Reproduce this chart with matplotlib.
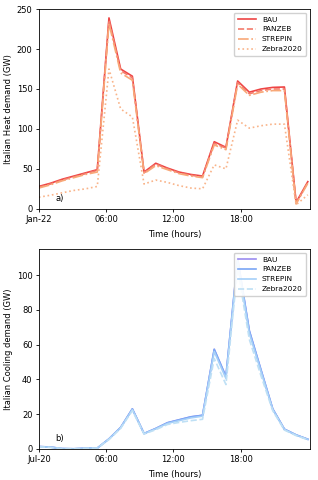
import numpy as np
import matplotlib.pyplot as plt

# 24 hourly samples stretched across the day axis
hours = np.linspace(0, 24, 24)

heat_bau = [28, 32, 37, 41, 45, 49, 239, 175, 166, 46, 57, 51, 46, 43, 41, 84, 77, 160, 146, 150, 152, 152.5, 8, 34]
heat_panzeb = [27, 31, 36, 40, 44, 48, 236, 173, 164, 45, 56, 50, 45, 42, 40, 82, 76, 158, 144, 148, 150, 150, 7, 33]
heat_strepin = [26, 30, 35, 39, 43, 46, 232, 170, 161, 44, 54, 49, 44, 41, 39, 80, 74, 156, 142, 146, 148, 148, 6, 32]
heat_zebra = [14.5, 17, 20, 23, 25, 28, 175, 125, 115, 31, 36, 33, 29, 26, 25, 55, 50, 111, 101, 104, 106, 106, 5, 17.5]

cool_bau = [1.3, 1.0, 0.1, 0.0, 0.3, 0.4, 5.7, 12.3, 23, 8.8, 11.7, 15, 16.7, 18.4, 19.3, 57.3, 41.6, 109.6, 68, 45.4, 23, 11.3, 8, 5.5]
cool_panzeb = [1.3, 1.0, 0.1, 0.0, 0.3, 0.4, 5.7, 12.3, 23, 8.8, 11.7, 15, 16.7, 18.4, 19.3, 57.3, 41.6, 109.6, 68, 45.4, 23, 11.3, 8, 5.5]
cool_strepin = [1.2, 0.9, 0.1, 0.0, 0.3, 0.4, 5.6, 12.1, 22.6, 8.7, 11.5, 14.6, 16.2, 17.8, 18.8, 56, 40.5, 108, 66.5, 44.5, 22.6, 11.1, 7.9, 5.4]
cool_zebra = [1.1, 0.8, 0.1, 0.0, 0.3, 0.4, 5.3, 11.8, 22, 8.5, 11, 14, 15.2, 16.2, 17, 52, 37, 104, 63, 42, 22, 10.8, 7.6, 5.2]

tick_pos = [0, 6, 12, 18]
heat_ticks = ['Jan-22', '06:00', '12:00', '18:00']
cool_ticks = ['Jul-20', '06:00', '12:00', '18:00']

plt.rcParams['font.size'] = 6

fig = plt.figure(figsize=(3.18, 4.8), dpi=100)
ax1 = fig.add_axes([0.122, 0.565, 0.853, 0.416])
ax2 = fig.add_axes([0.122, 0.065, 0.853, 0.416])

ax1.plot(hours, heat_bau, color='#ee4444', lw=1.2, label='BAU')
ax1.plot(hours, heat_panzeb, color='#f47c6c', lw=1.2, ls='--', label='PANZEB')
ax1.plot(hours, heat_strepin, color='#f8a878', lw=1.2, ls='-.', label='STREPIN')
ax1.plot(hours, heat_zebra, color='#f9b48a', lw=1.2, ls=':', label='Zebra2020')
ax1.set_ylim(0, 250)
ax1.set_ylabel('Italian Heat demand (GW)', labelpad=3)
ax1.text(0.06, 0.04, 'a)', transform=ax1.transAxes, fontsize=6)

ax2.plot(hours, cool_bau, color='#9b8cf0', lw=1.2, label='BAU')
ax2.plot(hours, cool_panzeb, color='#7aa6f5', lw=1.2, label='PANZEB')
ax2.plot(hours, cool_strepin, color='#a6d0f8', lw=1.2, label='STREPIN')
ax2.plot(hours, cool_zebra, color='#bfe0f5', lw=1.2, ls='--', label='Zebra2020')
ax2.set_ylim(0, 115)
ax2.set_ylabel('Italian Cooling demand (GW)', labelpad=3)
ax2.text(0.06, 0.04, 'b)', transform=ax2.transAxes, fontsize=6)

for ax, labels in [(ax1, heat_ticks), (ax2, cool_ticks)]:
    ax.set_xlim(0, 24.2)
    ax.set_xticks(tick_pos)
    ax.set_xticklabels(labels)
    ax.set_xlabel('Time (hours)')
    ax.tick_params(length=2.5, width=0.6, pad=2)
    for s in ax.spines.values():
        s.set_linewidth(0.6)
    ax.legend(loc='upper right', fontsize=5.3, handlelength=2.5, borderpad=0.5,
              labelspacing=0.5, framealpha=0.9)

fig.savefig('out.png', dpi=100)
